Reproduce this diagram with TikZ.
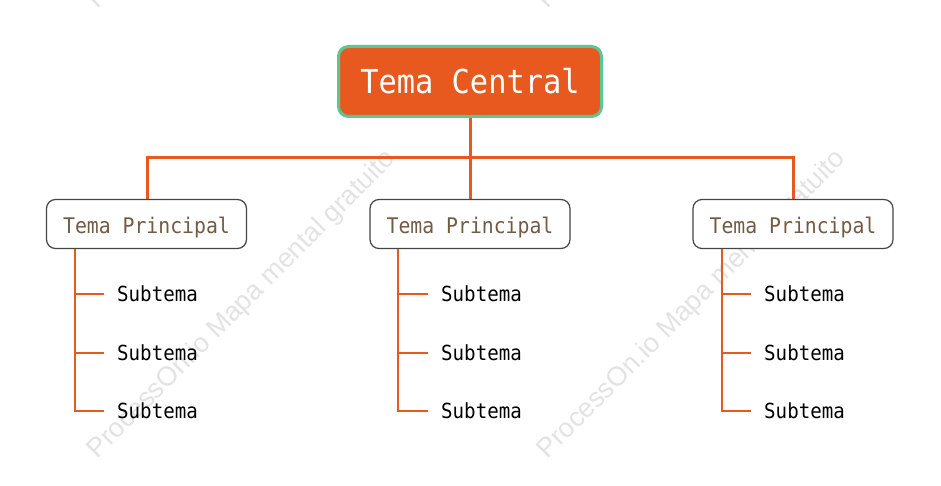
\documentclass[tikz,border=0pt]{standalone}
\usepackage{fontspec}
\newfontfamily\diagfont[FakeStretch=0.92]{DejaVu Sans Mono}
\newfontfamily\wmfont{Liberation Sans}
\definecolor{orangeM}{HTML}{E8591F}
\definecolor{greenB}{HTML}{5CC793}
\definecolor{brownT}{HTML}{725B44}
\definecolor{grayB}{HTML}{454545}
\begin{document}
\begin{tikzpicture}[x=1pt,y=-1pt,
  central/.style={draw=greenB, line width=3pt, fill=orangeM, rounded corners=10pt,
    minimum width=263pt, minimum height=70pt, text=white, inner sep=0pt,
    text height=24pt, text depth=0pt,
    font=\diagfont\fontsize{33}{33}\selectfont},
  principal/.style={draw=grayB, line width=1.2pt, fill=white, rounded corners=9pt,
    minimum width=200pt, minimum height=49pt, text=brownT, inner sep=0pt,
    text height=19.7pt, text depth=0pt,
    font=\diagfont\fontsize{21.5}{21.5}\selectfont},
  subnode/.style={anchor=west, inner xsep=13pt, inner ysep=0pt, text=black,
    text height=15.2pt, text depth=0pt,
    font=\diagfont\fontsize{20.8}{20.8}\selectfont},
  mainline/.style={draw=orangeM, line width=3pt},
  subline/.style={draw=orangeM, line width=1.6pt},
  watermark/.style={rotate=45, text=black!11, inner sep=0pt,
    font=\wmfont\fontsize{27}{27}\selectfont}
]
\useasboundingbox (0,0) rectangle (941,486);
\fill[white] (0,0) rectangle (941,486);

% watermarks
\node[watermark] (w1) at (242,305) {ProcessOn.io Mapa mental gratuito};
\node[watermark] (w2) at (692,305) {ProcessOn.io Mapa mental gratuito};
\node[watermark] (w3) at (242,-145) {ProcessOn.io Mapa mental gratuito};
\node[watermark] (w4) at (692,-145) {ProcessOn.io Mapa mental gratuito};

% connectors first (under boxes)
\coordinate (hub) at (470,158);
\coordinate (t1) at (147,200);
\coordinate (t2) at (470,200);
\coordinate (t3) at (793,200);
\draw[mainline] (470,100) -- (hub);
\draw[mainline] (hub) -| (t1);
\draw[mainline] (hub) -| (t3);
\draw[mainline] (hub) -- (t2);

% nodes
\node[central] (c) at (470,81.5) {Tema Central};
\node[principal] (p1) at (146.5,224) {Tema Principal};
\node[principal] (p2) at (470,224) {Tema Principal};
\node[principal] (p3) at (793,224) {Tema Principal};

% sub topics
\foreach \p/\bx/\tx in {1/75/104, 2/398/428, 3/722/751}{
  \coordinate (b\p) at (\bx,248.6);
  \node[subnode] (s\p1) at (\tx,294) {Subtema};
  \node[subnode] (s\p2) at (\tx,353) {Subtema};
  \node[subnode] (s\p3) at (\tx,411) {Subtema};
  \draw[subline] (b\p) |- (s\p3.west);
  \draw[subline] (b\p |- s\p1.west) -- (s\p1.west);
  \draw[subline] (b\p |- s\p2.west) -- (s\p2.west);
}
\end{tikzpicture}
\end{document}
